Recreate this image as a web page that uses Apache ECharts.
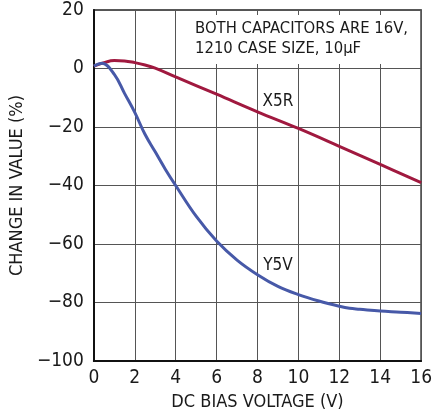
<!DOCTYPE html>
<html>
<head>
<meta charset="utf-8">
<script src="https://cdn.jsdelivr.net/npm/echarts@6/dist/echarts.min.js"></script>
<style>
  html, body { margin: 0; padding: 0; background: #fff; }
  #chart { width: 435px; height: 418px; }
</style>
</head>
<body>
<div id="chart"></div>
<script>
// DC bias voltage (V) vs change in capacitance (%)
const x5rVoltage = [0, 0.5, 1, 1.5, 2, 2.5, 3, 4, 6, 8, 10, 12, 14, 16];
const x5rChange  = [0.8, 2.0, 2.7, 2.6, 2.0, 1.2, 0.1, -2.9, -8.8, -14.8, -20.5, -26.6, -32.8, -39];

const y5vVoltage = [0, 0.4, 1, 1.5, 2, 2.5, 3, 3.5, 4, 5, 6, 7, 8, 9, 10, 11, 12, 12.5, 13, 14, 15, 16];
const y5vChange  = [0.8, 1.8, -2, -8.5, -15, -22.5, -28.5, -34.5, -40, -50.5, -59, -65.5, -70.5, -74.5, -77.3, -79.5, -81.3, -82, -82.3, -82.9, -83.3, -83.8];

const xTicks = [0, 2, 4, 6, 8, 10, 12, 14, 16];
const yTicks = [-100, -80, -60, -40, -20, 0, 20];

const noteLines = ['BOTH CAPACITORS ARE 16V,', '1210 CASE SIZE, 10µF'];
const x5rTag = { text: 'X5R', at: [9, -11.3] };
const y5vTag = { text: 'Y5V', at: [9, -67.3] };

const FONT = "'Liberation Sans Narrow', 'DejaVu Sans Condensed', 'Liberation Sans', sans-serif";
const TEXT = '#1a1a1a';

const pairs = (xs, ys) => xs.map((v, i) => [v, ys[i]]);

// curve name written beside the line, placed in data coordinates
const tag = t => ({
  silent: true,
  symbol: 'circle', symbolSize: 0,
  label: { show: true, position: 'inside', formatter: t.text, fontFamily: FONT, fontSize: 17, color: TEXT },
  data: [{ coord: t.at }]
});

const chart = echarts.init(document.getElementById('chart'), null, { renderer: 'canvas' });

chart.setOption({
  backgroundColor: '#fff',
  animation: false,
  textStyle: { fontFamily: FONT },
  grid: {
    left: 73, right: 11, top: 10, bottom: 57,
    show: true, borderColor: '#222', borderWidth: 1.5
  },
  title: {
    text: noteLines.join('\n'),
    left: 190, top: 15,
    padding: [4, 8, 5, 5],
    backgroundColor: '#fff',
    textStyle: { fontFamily: FONT, fontSize: 16.5, fontWeight: 'normal', color: TEXT, lineHeight: 20 }
  },
  xAxis: {
    type: 'value',
    min: xTicks[0], max: xTicks[xTicks.length - 1], interval: 2,
    name: 'DC BIAS VOLTAGE (V)',
    nameLocation: 'middle', nameGap: 32,
    nameTextStyle: { fontFamily: FONT, fontSize: 18, color: TEXT },
    axisLine: { show: true, onZero: false, lineStyle: { color: '#111', width: 2 } },
    axisTick: { show: false },
    axisLabel: { fontFamily: FONT, fontSize: 19, color: TEXT, margin: 8 },
    splitLine: { show: true, lineStyle: { color: '#555', width: 1 } }
  },
  yAxis: {
    type: 'value',
    min: yTicks[0], max: yTicks[yTicks.length - 1], interval: 20,
    name: 'CHANGE IN VALUE (%)',
    nameLocation: 'middle', nameGap: 47, nameRotate: 90,
    nameTextStyle: { fontFamily: FONT, fontSize: 18, color: TEXT },
    axisLine: { show: true, onZero: false, lineStyle: { color: '#111', width: 2 } },
    axisTick: { show: false },
    axisLabel: {
      fontFamily: FONT, fontSize: 19, color: TEXT, margin: 10,
      formatter: v => (v < 0 ? '\u2212' + Math.abs(v) : String(v))
    },
    splitLine: { show: true, lineStyle: { color: '#555', width: 1 } }
  },
  series: [
    {
      name: 'X5R', type: 'line', smooth: 0.4, showSymbol: false,
      data: pairs(x5rVoltage, x5rChange),
      lineStyle: { color: '#a0193f', width: 3 },
      markPoint: tag(x5rTag),
      z: 3
    },
    {
      name: 'Y5V', type: 'line', smooth: 0.4, showSymbol: false,
      data: pairs(y5vVoltage, y5vChange),
      lineStyle: { color: '#4759a8', width: 3 },
      markPoint: tag(y5vTag),
      z: 3
    }
  ]
});
</script>
</body>
</html>
